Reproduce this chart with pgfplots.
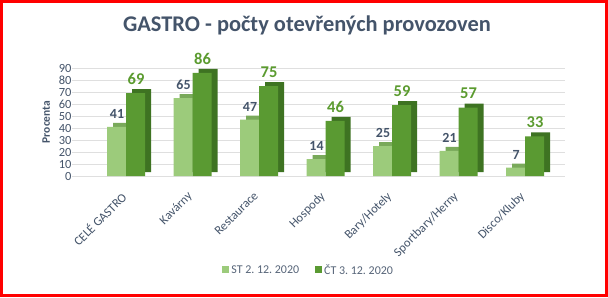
\documentclass[border=0pt]{standalone}
\usepackage{fontspec}
\setmainfont{Carlito}
\usepackage{pgfplots}
\pgfplotsset{compat=1.18}
\frenchspacing
\definecolor{slate}{HTML}{44546A}
\definecolor{lightg}{HTML}{9CCB7B}
\definecolor{lightgside}{HTML}{79A95A}
\definecolor{darkg}{HTML}{5A9A32}
\definecolor{darkgside}{HTML}{3E7322}
\definecolor{labgreen}{HTML}{5B9B2F}
\pgfplotstableread{
x st ct
0 41 69
1 65 86
2 47 75
3 14 46
4 25 59
5 21 57
6 7 33
}\gastro
\begin{document}
\begin{tikzpicture}[x=1bp,y=1bp]
\useasboundingbox (0,0) rectangle (608,297);
\fill[white] (0,0) rectangle (608,297);
\node[font=\bfseries\fontsize{22.5}{26}\selectfont, color=slate] at (307,272) {GASTRO - počty otevřených provozoven};
\begin{axis}[
  at={(72bp,121bp)}, anchor=south west,
  scale only axis, width=493bp, height=108bp,
  xmin=-0.827, xmax=6.586, ymin=0, ymax=90,
  clip=false,
  axis line style={draw=none},
  major tick length=0pt,
  ymajorgrids, grid style={gray!25, line width=0.6bp},
  ytick={0,10,...,90},
  xtick={0,...,6},
  xticklabels={CELÉ GASTRO,Kavárny,Restaurace,Hospody,Bary/Hotely,Sportbary/Herny,Disco/Kluby},
  /pgf/number format/assume math mode=true,
  yticklabel style={font=\fontsize{12.5}{14}\selectfont, color=slate, xshift=3bp},
  xticklabel style={xshift=-7bp, yshift=-10bp, rotate=45, anchor=north east, font=\fontsize{12.5}{14}\selectfont, color=slate},
  ylabel={Procenta},
  ylabel style={font=\bfseries\fontsize{11.5}{13}\selectfont, color=slate, yshift=2bp},
  legend style={at={(rel axis cs:0.48,-0.87)}, anchor=center, legend columns=2, draw=none, fill=none,
    font=\fontsize{12}{14}\selectfont, text=slate!90,
    /tikz/every even column/.append style={column sep=14bp}},
  legend cell align=left,
  legend image code/.code={\fill[#1] (0bp,-3.5bp) rectangle (7bp,3.5bp);},
]
\addlegendimage{fill=lightg, draw=none}
\addlegendentry{ST 2. 12. 2020}
\addlegendimage{fill=darkg, draw=none}
\addlegendentry{ČT 3. 12. 2020}
% light series
\addplot[ybar, bar width=19bp, bar shift=-10.5bp, fill=lightgside, draw=none, xshift=6bp, yshift=4bp, forget plot] table[x=x,y=st]{\gastro};
\addplot[ybar, bar width=19bp, bar shift=-10.5bp, fill=lightg, draw=none, forget plot,
  nodes near coords, every node near coord/.append style={font=\bfseries\fontsize{14}{16}\selectfont, color=slate, xshift=-10bp, yshift=5bp}] table[x=x,y=st]{\gastro};
% dark series
\addplot[ybar, bar width=19bp, bar shift=8.5bp, fill=darkgside, draw=none, xshift=6bp, yshift=4bp, forget plot] table[x=x,y=ct]{\gastro};
\addplot[ybar, bar width=19bp, bar shift=8.5bp, fill=darkg, draw=none, forget plot,
  nodes near coords, every node near coord/.append style={font=\bfseries\fontsize{16.5}{18}\selectfont, color=labgreen, xshift=9bp, yshift=5bp}] table[x=x,y=ct]{\gastro};
\end{axis}
\draw[red, line width=3bp] (1.5,1.5) rectangle (606.5,295.5);
\end{tikzpicture}
\end{document}
